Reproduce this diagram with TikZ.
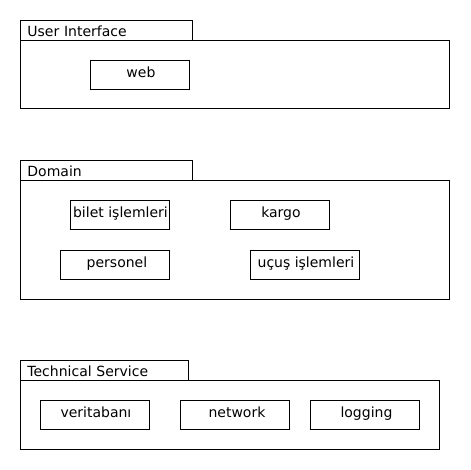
\documentclass[tikz,border=0pt]{standalone}
\usepackage{fontspec}
\setmainfont{DejaVu Sans}
\begin{document}
\begin{tikzpicture}[x=1pt,y=-1pt,
  every node/.style={font=\fontsize{14pt}{16pt}\selectfont, line width=0.9pt},
  comp/.style={draw, anchor=north west, inner ysep=0pt, inner xsep=0pt,
    minimum height=29pt, text height=17pt, text depth=12pt},
  tabbox/.style={draw, anchor=north west, inner ysep=0pt, inner xsep=7pt,
    minimum height=20pt, text height=16.5pt, text depth=3.5pt, align=left},
  pkgbody/.style={draw, anchor=north west, inner sep=0pt}]
\useasboundingbox (0,0) rectangle (470,470);
% User Interface
\node[tabbox, text width=158pt] (uitab) at (20,20) {User Interface};
\node[pkgbody, minimum width=429pt, minimum height=68pt] (ui) at (20,40) {};
\node[comp, minimum width=99pt] (web) at (90,60) {\hspace{2pt}web};
% Domain
\node[tabbox, text width=158pt] (domtab) at (20,160) {Domain};
\node[pkgbody, minimum width=429pt, minimum height=119pt] (dom) at (20,180) {};
\node[comp, minimum width=99pt] (bilet) at (70,200) {\hspace{1pt}bilet işlemleri};
\node[comp, minimum width=99pt] (kargo) at (230,200) {\hspace{2pt}kargo};
\node[comp, minimum width=109pt] (personel) at (60,250) {\hspace{4pt}personel};
\node[comp, minimum width=109pt] (ucus) at (250,250) {\hspace{2pt}uçuş işlemleri};
% Technical Service
\node[tabbox, text width=154pt] (tstab) at (20,360) {Technical Service};
\node[pkgbody, minimum width=419pt, minimum height=69pt] (ts) at (20,380) {};
\node[comp, minimum width=109pt] (veri) at (40,400) {\hspace{2pt}veritabanı};
\node[comp, minimum width=109pt] (net) at (180,400) {\hspace{4pt}network};
\node[comp, minimum width=109pt] (log) at (310,400) {\hspace{3pt}logging};
\end{tikzpicture}
\end{document}
